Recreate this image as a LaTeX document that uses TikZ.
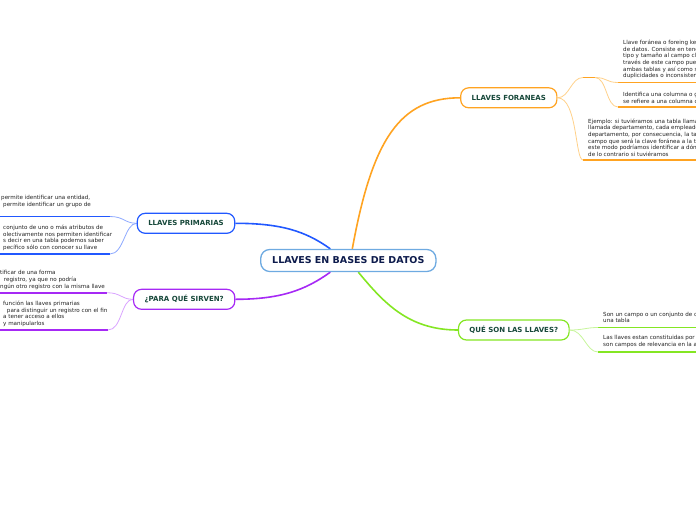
\documentclass[tikz,border=0pt]{standalone}
\usepackage{fontspec}
\setmainfont{DejaVu Sans}
\usetikzlibrary{positioning}
\pgfdeclarelayer{background}
\pgfsetlayers{background,main}
\definecolor{rootline}{HTML}{6EAAE1}
\definecolor{rootink}{HTML}{0D1B4C}
\definecolor{topicink}{HTML}{17483A}
\definecolor{leafink}{HTML}{222222}
\definecolor{bluetop}{HTML}{2158FF}
\definecolor{bluetwig}{HTML}{8EA9FF}
\definecolor{purptop}{HTML}{A629F5}
\definecolor{purptwig}{HTML}{D9A3FF}
\definecolor{orangetop}{HTML}{FFA321}
\definecolor{orangetwig}{HTML}{FFD18A}
\definecolor{greentop}{HTML}{84E623}
\definecolor{greentwig}{HTML}{C6F59A}
\tikzset{
    root/.style={draw=rootline, line width=1.3pt, rounded corners=9pt, fill=white, text=rootink,
      font=\fontsize{9.5}{11}\selectfont\bfseries, inner xsep=11.5pt, minimum height=22pt},
    topic/.style={draw=#1, line width=1.2pt, rounded corners=8pt, fill=white, text=topicink,
      font=\fontsize{7}{8}\selectfont\bfseries, inner xsep=11pt, minimum height=20pt},
    leaf/.style={align=left, inner sep=0pt, text=leafink, font=\fontsize{5.6}{6.6}\selectfont, anchor=base west},
    branch/.style={draw=#1, line width=1.6pt},
    under/.style={draw=#1, line width=1.7pt},
    twig/.style={draw=#1, line width=0.8pt},
}
\begin{document}
\begin{tikzpicture}[x=1pt, y=-1pt]
    \useasboundingbox (0,0) rectangle (696,520);
    \clip (0,0) rectangle (696,520);

    \node[root] (keys) at (348.3,260.5) {LLAVES EN BASES DE DATOS};
    \node[topic=bluetop] (primarias) at (186,223.3) {LLAVES PRIMARIAS};
    \node[topic=purptop] (sirven) at (184.2,299.3) {¿PARA QUÉ SIRVEN?};
    \node[topic=orangetop] (foraneas) at (508.8,97.8) {LLAVES FORANEAS};
    \node[topic=greentop] (queson) at (513.8,330) {QUÉ SON LAS LLAVES?};

    % left leaves (anchored on the last line)
    \node[leaf] (pa) at (1,206) {permite identificar una entidad,\\\hspace*{2pt}permite identificar un grupo de};
    \node[leaf] (pb) at (3,249.3) {conjunto de uno o más atributos de\\olectivamente nos permiten identificar\\s decir en una tabla podemos saber\\pecífico sólo con conocer su llave};
    \node[leaf] (sa) at (0,288) {tificar de una forma\\\hspace*{2pt} registro, ya que no podría\\ngún otro registro con la misma llave};
    \node[leaf] (sb) at (3,325.3) {función las llaves primarias\\\hspace*{2pt} para distinguir un registro con el fin\\a tener acceso a ellos\\y manipularlos};

    % right leaves
    \node[leaf] (fa) at (623,77.7) {Llave foránea o foreing key\\de datos. Consiste en tener\\tipo y tamaño al campo clave\\través de este campo puede\\ambas tablas y así como se\\duplicidades o inconsistencias};
    \node[leaf] (fb) at (623,103) {Identifica una columna o grupo\\se refiere a una columna clave};
    \node[leaf] (fc) at (588,156.3) {Ejemplo: si tuviéramos una tabla llamada\\llamada departamento, cada empleado\\departamento, por consecuencia, la tabla\\campo que será la clave foránea a la tabla\\este modo podríamos identificar a dónde\\de lo contrario si tuviéramos};
    \node[leaf] (qa) at (603,322.7) {Son un campo o un conjunto de campos\\una tabla};
    \node[leaf] (qb) at (603,346) {Las llaves estan constituidas por atributos\\son campos de relevancia en la arquitectura};

    % underline ends
    \coordinate (pa0) at (0,216.5);   \coordinate (pa1) at (110,216.5);
    \coordinate (pb0) at (0,254);     \coordinate (pb1) at (110,254);
    \coordinate (sa0) at (0,292.7);   \coordinate (sa1) at (107,292.7);
    \coordinate (sb0) at (0,330);     \coordinate (sb1) at (108,330);
    \coordinate (f0) at (583,77.5);   \coordinate (f1) at (595,77.5);
    \coordinate (fa0) at (618,82.5);  \coordinate (fa1) at (700,82.5);
    \coordinate (fb0) at (618,107);   \coordinate (fb1) at (700,107);
    \coordinate (fc0) at (583,160);   \coordinate (fc1) at (700,160);
    \coordinate (qa0) at (598,327.5); \coordinate (qa1) at (700,327.5);
    \coordinate (qb0) at (598,352);   \coordinate (qb1) at (700,352);

    \begin{pgfonlayer}{background}
      \draw[branch=bluetop] ([xshift=-18pt]keys.north) .. controls +(-25,-18) and +(45,0) .. (primarias.east);
      \draw[branch=purptop] ([xshift=-18pt]keys.south) .. controls +(-25,18) and +(45,0) .. (sirven.east);
      \draw[branch=orangetop] ([xshift=4pt]keys.north) .. controls +(20,-110) and +(-60,0) .. (foraneas.west);
      \draw[branch=greentop] ([xshift=10pt]keys.south) .. controls +(25,30) and +(-50,0) .. (queson.west);

      \draw[under=bluetop] (pa0) -- (pa1);
      \draw[under=bluetop] (pb0) -- (pb1);
      \draw[twig=bluetwig] (pa1) .. controls +(14,0) and +(-12,0) .. (primarias.west);
      \draw[twig=bluetwig] (pb1) .. controls +(14,0) and +(-12,0) .. (primarias.west);

      \draw[under=purptop] (sa0) -- (sa1);
      \draw[under=purptop] (sb0) -- (sb1);
      \draw[twig=purptwig] (sa1) .. controls +(14,0) and +(-12,0) .. (sirven.west);
      \draw[twig=purptwig] (sb1) .. controls +(14,0) and +(-12,0) .. (sirven.west);

      \draw[under=orangetop] (f0) -- (f1);
      \draw[under=orangetop] (fa0) -- (fa1);
      \draw[under=orangetop] (fb0) -- (fb1);
      \draw[under=orangetop] (fc0) -- (fc1);
      \draw[twig=orangetwig] (foraneas.east) .. controls +(12,0) and +(-12,0) .. (f0);
      \draw[twig=orangetwig] (f1) .. controls +(12,0) and +(-12,0) .. (fa0);
      \draw[twig=orangetwig] (f1) .. controls +(12,0) and +(-12,0) .. (fb0);
      \draw[twig=orangetwig] (foraneas.east) .. controls +(20,0) and +(-8,0) .. (fc0);

      \draw[under=greentop] (qa0) -- (qa1);
      \draw[under=greentop] (qb0) -- (qb1);
      \draw[twig=greentwig] (queson.east) .. controls +(14,0) and +(-12,0) .. (qa0);
      \draw[twig=greentwig] (queson.east) .. controls +(14,0) and +(-12,0) .. (qb0);
    \end{pgfonlayer}
\end{tikzpicture}
\end{document}
